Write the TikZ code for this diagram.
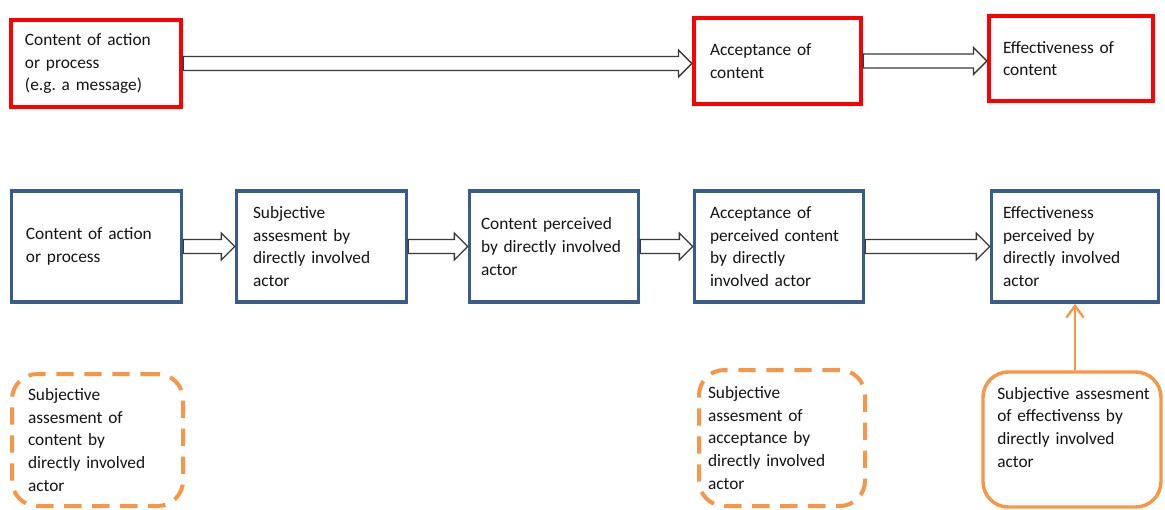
\documentclass[tikz,border=0pt]{standalone}
\usepackage{fontspec}
\setmainfont{Carlito}
\usetikzlibrary{calc,arrows.meta}
\definecolor{boxred}{HTML}{FF0000}
\definecolor{boxblue}{HTML}{385D8A}
\definecolor{boxorange}{HTML}{F79646}
\definecolor{arrowgray}{HTML}{3A3A3A}
\definecolor{inktext}{HTML}{141414}

% hollow block arrow between two boxes, along the source box's centre line
\newcommand\fatarrow[2]{%
  \draw[fat] let \p1=(#1.east), \p2=(#2.west) in
    (\x1,\y1+5.25pt) -- (\x2-10pt,\y1+5.25pt) -- (\x2-10pt,\y1+10pt) -- (\x2,\y1)
    -- (\x2-10pt,\y1-10pt) -- (\x2-10pt,\y1-5.25pt) -- (\x1,\y1-5.25pt) -- cycle;}

\begin{document}
\frenchspacing
\begin{tikzpicture}[x=0.75pt,y=-0.75pt,
  txt/.style={font=\fontsize{13pt}{17pt}\selectfont, text=inktext, align=left, inner sep=0pt},
  redbox/.style={txt, draw=boxred, line width=3.2pt},
  bluebox/.style={txt, draw=boxblue, line width=2.7pt, minimum width=127.5pt, minimum height=83.25pt},
  dashbox/.style={txt, draw=boxorange, line width=3pt, dash pattern=on 13pt off 8pt, rounded corners=19pt},
  solidbox/.style={draw=boxorange, line width=2.6pt, rounded corners=19pt},
  fat/.style={draw=arrowgray, line width=1pt, fill=white, line join=miter},
  feed/.style={draw=boxorange, line width=1.7pt, -{Straight Barb[length=9pt,width=13pt,line width=1.7pt]}}]
\useasboundingbox (0,0) rectangle (1165,510);

% top row: content, acceptance, effectiveness
\node[redbox, minimum width=127.5pt, minimum height=65.25pt, text width=106.5pt] (r1) at (96,63.5)
  {Content of action\\or process\\(e.g. a message)};
\node[redbox, minimum width=125.25pt, minimum height=64.5pt, text width=101.25pt] (r2) at (777.5,61)
  {Acceptance of\\content};
\node[redbox, minimum width=123pt, minimum height=63.75pt, text width=102pt] (r3) at (1071,58.5)
  {Effectiveness of\\content};

% middle row: perception chain of the directly involved actor
\node[bluebox, text width=105.75pt] (b1) at (96.5,246.5) {Content of action\\or process};
\node[bluebox, text width=102.75pt] (b2) at (321.5,246.5) {Subjective\\assesment by\\directly involved\\actor};
\node[bluebox, minimum width=126.75pt, text width=109.5pt] (b3) at (554,246.5) {Content perceived\\by directly involved\\actor};
\node[bluebox, minimum width=126.75pt, text width=103.5pt] (b4) at (779,246.5) {Acceptance of\\perceived content\\by directly\\involved actor};
\node[bluebox, minimum width=125.25pt, text width=108pt] (b5) at (1075,246.5) {Effectiveness\\perceived by\\directly involved\\actor};

% bottom row: subjective assessments
\node[dashbox, minimum width=128.25pt, minimum height=99pt, text width=104.25pt] (o1) at (97.5,440)
  {Subjective\\assesment of\\content by\\directly involved\\actor};
\node[dashbox, minimum width=124.5pt, minimum height=102pt, text width=111pt] (o2) at (782,438)
  {Subjective\\assesment of\\acceptance by\\directly involved\\actor};
\node[solidbox, minimum width=133.5pt, minimum height=101.25pt] (o3) at (1072,439.5) {};
\node[txt, anchor=north west, text width=125pt] (o3t) at (997,387)
  {Subjective assesment\\of effectivenss by\\directly involved\\actor};

% connectors
\fatarrow{r1}{r2}
\fatarrow{r2}{r3}
\fatarrow{b1}{b2}
\fatarrow{b2}{b3}
\fatarrow{b3}{b4}
\fatarrow{b4}{b5}
\draw[feed] (b5.south |- o3.north) -- (b5.south);
\end{tikzpicture}
\end{document}
